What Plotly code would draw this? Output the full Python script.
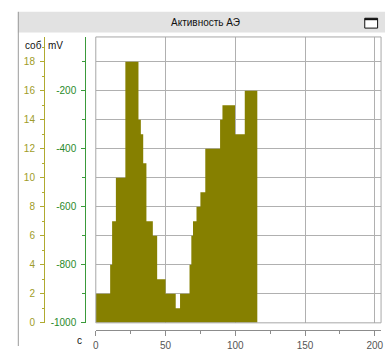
import plotly.graph_objects as go

# AE activity histogram: bin edges (s) and event counts per bin
bin_edges = [0, 10.3, 11.7, 14.4, 21.2, 30.6, 32.3, 34.0, 36.3, 40.9, 44.0, 50.0,
             57.3, 60.4, 67.2, 68.5, 69.7, 72.2, 75.0, 78.5, 89.1, 90.8, 99.8,
             106.8, 115.8]
event_counts = [2, 4, 7, 10, 18, 14, 13, 11, 7, 6, 3, 2,
                1, 2, 4, 6, 7, 8, 9, 12, 14, 15, 13, 16]

# millivolt scale ticks
mv_ticks = [-1000, -800, -600, -400, -200]

title_text = "Активность АЭ"
count_label = "соб"
mv_label = "mV"
time_label = "c"

W, H = 387, 351
BAR = "#868000"
OLIVE_LINE = "#b0aa30"
OLIVE_TEXT = "#a09c28"
GREEN_LINE = "#3a9a3a"
GREEN_TEXT = "#2a8a2a"
GRID = "#b0b0b0"
FONT = "Liberation Sans, Arial, sans-serif"

# plot-area geometry in pixels
px_left, px_right = 94, 383
py_top, py_bottom = 37.5, 327.5
y_max = 19.7
x_max = 204.5


def fx(px):
    return px / W


def fy(py):
    return 1 - py / H


fig = go.Figure()

# step histogram
fig.add_trace(go.Scatter(
    x=bin_edges,
    y=event_counts + [event_counts[-1]],
    mode="lines",
    line=dict(shape="hv", width=0, color=BAR),
    fill="tozeroy",
    fillcolor=BAR,
    hoverinfo="skip",
    showlegend=False,
))

# empty series so the millivolt scale is rendered
fig.add_trace(go.Scatter(
    x=[], y=[], yaxis="y2", mode="lines",
    hoverinfo="skip", showlegend=False,
))

fig.update_layout(
    width=W, height=H,
    margin=dict(l=0, r=0, t=0, b=0),
    paper_bgcolor="white",
    plot_bgcolor="white",
    font=dict(family=FONT, size=10, color="#333"),
    showlegend=False,
    xaxis=dict(
        domain=[fx(px_left), fx(px_right)],
        range=[0, x_max],
        anchor="free",
        position=fy(335),
        showline=True, linecolor="#8c8c8c", linewidth=1,
        ticks="outside", ticklen=5, tickcolor="#8c8c8c",
        tick0=0, dtick=50,
        minor=dict(dtick=25, ticks="outside", ticklen=3, tickcolor="#8c8c8c", showgrid=False),
        showgrid=True, gridcolor=GRID, gridwidth=1,
        zeroline=False,
        tickfont=dict(size=10, color="#555"),
        ticklabelstandoff=1,
    ),
    yaxis=dict(
        domain=[fy(py_bottom), fy(py_top)],
        range=[0, y_max],
        anchor="free",
        position=fx(41.5),
        showline=True, linecolor=OLIVE_LINE, linewidth=1,
        ticks="outside", ticklen=4, tickcolor=OLIVE_LINE,
        tick0=0, dtick=2,
        minor=dict(dtick=1, ticks="outside", ticklen=2, tickcolor=OLIVE_LINE, showgrid=False),
        showgrid=True, gridcolor=GRID, gridwidth=1,
        zeroline=False,
        tickfont=dict(size=10, color=OLIVE_TEXT),
        ticklabelstandoff=3,
    ),
    yaxis2=dict(
        overlaying="y",
        range=[-1000, -1000 + y_max * 50],
        anchor="free",
        position=fx(83.3),
        side="left",
        showline=True, linecolor=GREEN_LINE, linewidth=1,
        ticks="outside", ticklen=4, tickcolor=GREEN_LINE,
        tickmode="array",
        tickvals=mv_ticks,
        ticktext=[str(v) for v in mv_ticks],
        minor=dict(dtick=100, tick0=-1000, ticks="outside", ticklen=3,
                   tickcolor=GREEN_LINE, showgrid=False),
        showgrid=False, zeroline=False,
        tickfont=dict(size=10, color=GREEN_TEXT),
        ticklabelstandoff=3,
    ),
)

shapes = [
    # window caption bar
    dict(type="rect", xref="paper", yref="paper",
         x0=fx(15), x1=1, y0=fy(33), y1=fy(12),
         fillcolor="#e2e2e2", line=dict(width=0), layer="below"),
    # panel left border
    dict(type="line", xref="paper", yref="paper",
         x0=fx(15.5), x1=fx(15.5), y0=fy(12), y1=0,
         line=dict(color="#9a9a9a", width=1)),
    # maximise button
    dict(type="rect", xref="paper", yref="paper",
         x0=fx(366.5), x1=fx(379.5), y0=fy(28.5), y1=fy(18.5),
         fillcolor="white", line=dict(color="#111", width=1)),
    dict(type="rect", xref="paper", yref="paper",
         x0=fx(366.5), x1=fx(379.5), y0=fy(20.5), y1=fy(18.5),
         fillcolor="#111", line=dict(width=0)),
    # plot-area frame
    dict(type="rect", xref="x domain", yref="y domain",
         x0=0, x1=1, y0=0, y1=1,
         line=dict(color="#a8a8a8", width=1), layer="above"),
]

annotations = [
    dict(text=title_text, xref="paper", yref="paper", x=fx(205), y=fy(23),
         xanchor="center", yanchor="middle", showarrow=False,
         font=dict(size=10, color="#111")),
    dict(text=count_label, xref="paper", yref="paper", x=fx(20), y=fy(46),
         xanchor="left", yanchor="middle", showarrow=False,
         font=dict(size=10, color="#111")),
    dict(text=mv_label, xref="paper", yref="paper", x=fx(44), y=fy(46),
         xanchor="left", yanchor="middle", showarrow=False,
         font=dict(size=10, color="#111")),
    dict(text=time_label, xref="paper", yref="paper", x=fx(78), y=fy(345),
         xanchor="center", yanchor="middle", showarrow=False,
         font=dict(size=10, color="#111")),
]

fig.update_layout(shapes=shapes, annotations=annotations)

fig.write_html("out.html")
